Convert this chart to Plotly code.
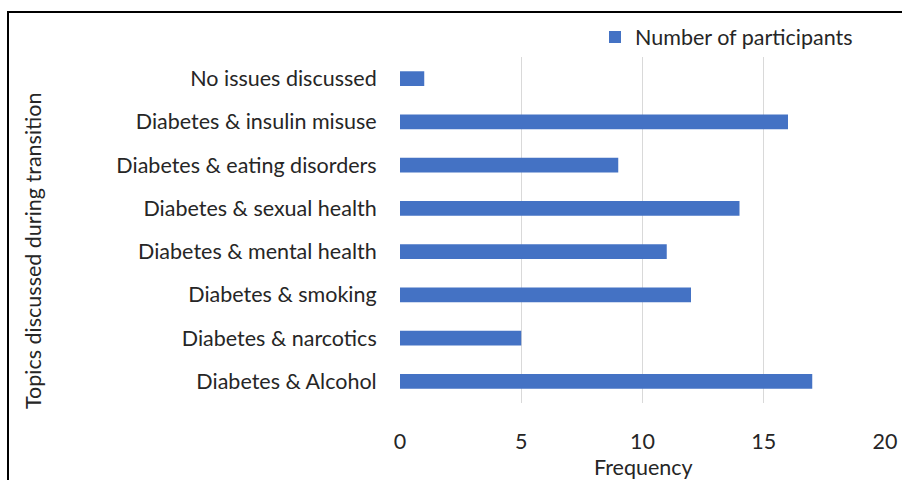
import plotly.graph_objects as go

categories = ["Diabetes & Alcohol", "Diabetes & narcotics", "Diabetes & smoking",
              "Diabetes & mental health", "Diabetes & sexual health",
              "Diabetes & eating disorders", "Diabetes & insulin misuse",
              "No issues discussed"]
values = [17, 5, 12, 11, 14, 9, 16, 1]
series_name = "Number of participants"
x_ticks = [0, 5, 10, 15, 20]

FONT = "Lato"
TXT = "#262626"
FS = 21.5

fig = go.Figure()
fig.add_trace(go.Bar(y=categories, x=values, orientation="h", name=series_name,
                     marker=dict(color="#4472C4", line=dict(width=0))))

W, H = 902, 480
L, R, T, B = 400, 17, 57, 77
pw = W - L - R
ph = H - T - B

fig.update_layout(
    width=W, height=H,
    margin=dict(l=L, r=R, t=T, b=B),
    paper_bgcolor="white", plot_bgcolor="white",
    bargap=0.66,
    font=dict(family=FONT, size=FS, color=TXT),
    showlegend=True,
    legend=dict(orientation="h", x=(595 - L) / pw, y=(H - B - 37) / ph, xanchor="left", yanchor="middle",
                font=dict(size=FS, color=TXT), bgcolor="rgba(0,0,0,0)", itemwidth=30),
    xaxis=dict(range=[0, 20], tickvals=x_ticks, showgrid=True, gridcolor="#d9d9d9", gridwidth=1,
               zeroline=False, showline=False, ticks="outside", ticklen=19,
               tickcolor="rgba(0,0,0,0)", tickfont=dict(size=FS, color=TXT), fixedrange=True),
    yaxis=dict(showgrid=False, zeroline=False, showline=False, ticks="outside", ticklen=18,
               tickcolor="rgba(0,0,0,0)", tickfont=dict(size=FS, color=TXT), automargin=False),
    annotations=[
        dict(text="Frequency", xref="paper", yref="paper", x=(643 - L) / pw, y=(H - B - 467) / ph,
             showarrow=False, font=dict(size=FS, color=TXT), xanchor="center", yanchor="middle"),
        dict(text="Topics discussed during transition", xref="paper", yref="paper",
             x=(33 - L) / pw, y=(H - B - 251) / ph, textangle=-90, showarrow=False,
             font=dict(size=FS, color=TXT), xanchor="center", yanchor="middle"),
    ],
    shapes=[
        dict(type="rect", xref="paper", yref="paper", x0=(8 - L) / pw, x1=2,
             y0=-2, y1=(H - B - 12) / ph, line=dict(color="black", width=2), fillcolor="rgba(0,0,0,0)"),
    ],
)
fig.update_xaxes(automargin=False)

fig.write_html("out.html")
